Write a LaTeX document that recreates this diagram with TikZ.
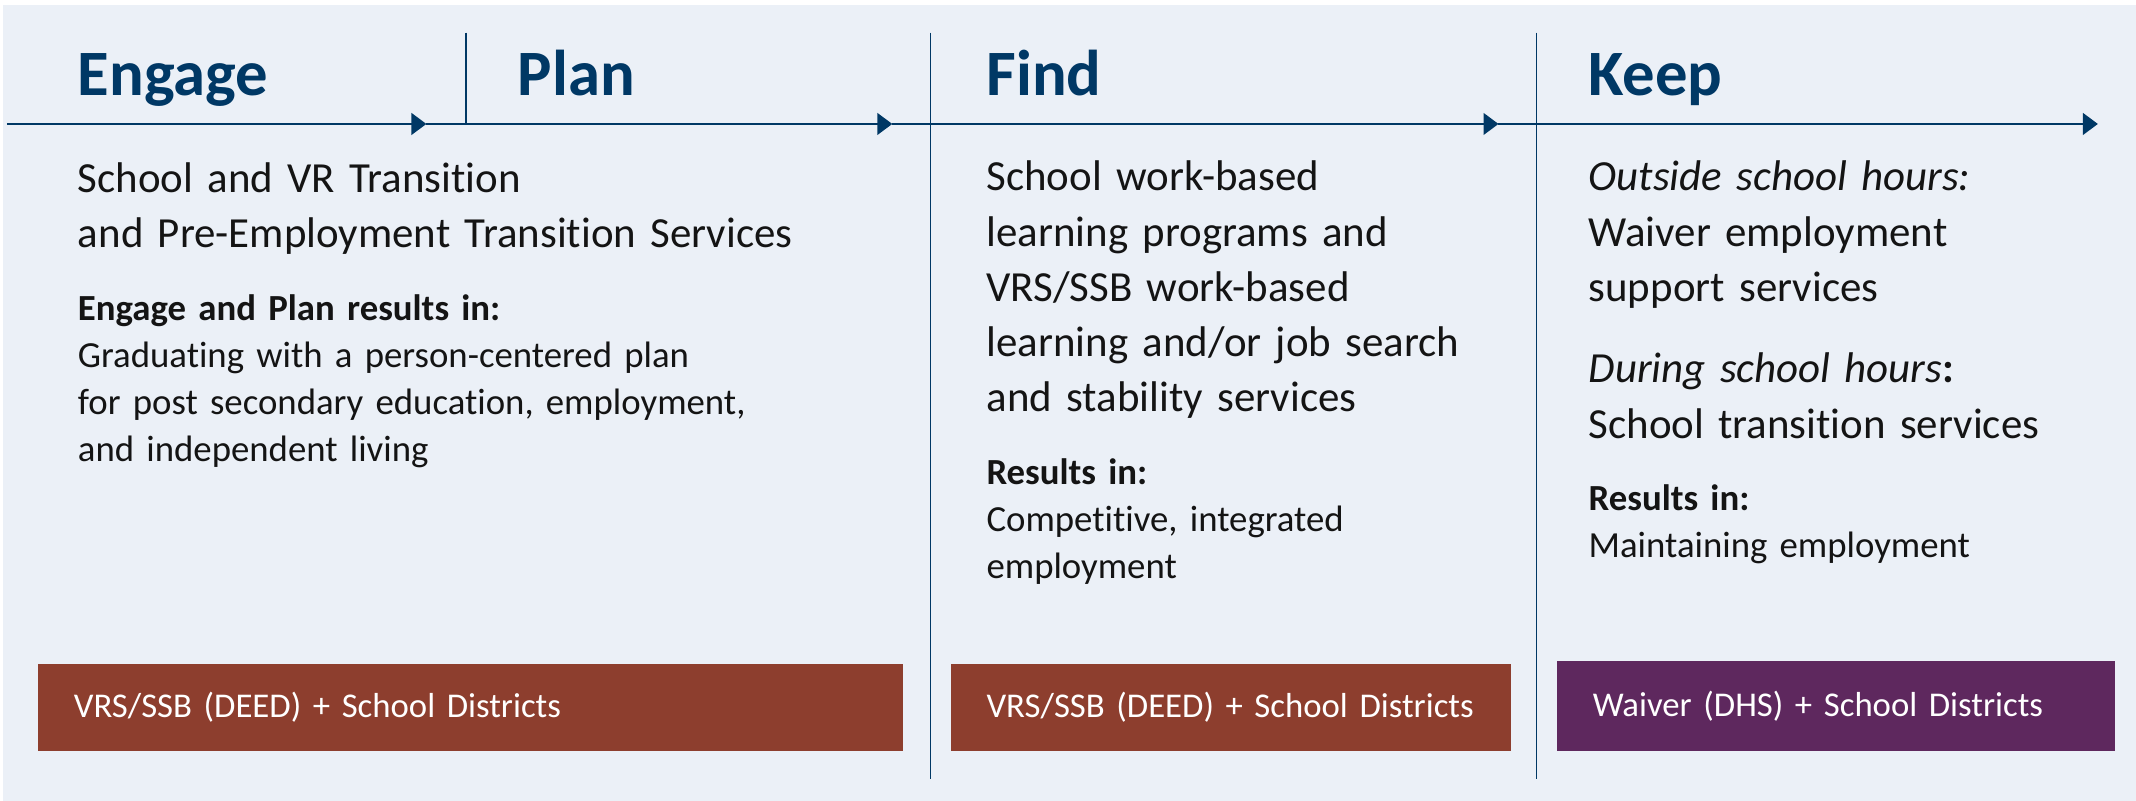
\documentclass[tikz,border=0pt]{standalone}
\usepackage{fontspec}
\setmainfont{Carlito}[Ligatures=NoCommon]
\usetikzlibrary{arrows.meta, positioning}
\definecolor{navy1}{RGB}{0, 56, 101}
\definecolor{panel1}{RGB}{235, 240, 247}
\definecolor{rust1}{RGB}{141, 62, 46}
\definecolor{plum1}{RGB}{94, 40, 94}
\definecolor{ink1}{RGB}{20, 20, 20}

\begin{document}
\begin{tikzpicture}[
  x=1pt, y=1pt,
  stage/.style={anchor=base west, inner sep=0pt, text=navy1, font=\fontsize{47.5}{50}\selectfont\bfseries},
  bigtxt/.style={anchor=base west, inner sep=0pt, align=left, text width=#1, text=ink1, font=\fontsize{31.5}{40.6}\selectfont},
  smalltxt/.style={anchor=base west, inner sep=0pt, align=left, text width=#1, text=ink1, font=\fontsize{27}{34.5}\selectfont},
  band/.style={fill=#1, anchor=north west, inner xsep=26pt, inner ysep=0pt, minimum height=64pt, align=left, text=white, font=\fontsize{25.5}{28}\selectfont},
  flow/.style={draw=navy1, line width=1.4pt, -{Triangle[length=11pt, width=16pt]}},
  divider/.style={draw=navy1, line width=1pt},
]
  % page and panel
  \fill[white] (0,0) rectangle (1568,-588);
  \fill[panel1] (2,-4) rectangle (1568,-588);

  % timeline
  \coordinate (start) at (5,-91);
  \coordinate (tipA) at (313,-91);
  \coordinate (tipB) at (655,-91);
  \coordinate (tipC) at (1100,-91);
  \coordinate (tipD) at (1540,-91);
  \draw[flow] (start) -- (tipA);
  \draw[flow] (tipA) -- (tipB);
  \draw[flow] (tipB) -- (tipC);
  \draw[flow] (tipC) -- (tipD);

  \coordinate (topA) at (342,-24);
  \coordinate (topB) at (683,-24);
  \coordinate (topC) at (1128,-24);
  \coordinate (footB) at (683,-572);
  \coordinate (footC) at (1128,-572);
  \draw[divider] (topA) -- (topA |- start);
  \draw[divider] (topB) -- (footB);
  \draw[divider] (topC) -- (footC);

  % stage titles
  \node[stage] (engage) at (57,-70) {Engage};
  \node[stage] (plan) at (380,-70) {Plan};
  \node[stage] (find) at (724,-70) {Find};
  \node[stage] (keep) at (1166,-70) {Keep};

  % column texts
  \node[bigtxt=580pt] (engageserv) at (57,-141) {School and VR Transition\\and Pre-Employment Transition Services};
  \node[smalltxt=580pt] (engageres) at (57,-235) {\textbf{Engage and Plan results in:}\\Graduating with a person-centered plan\\for post secondary education, employment,\\and independent living};

  \node[bigtxt=390pt] (findserv) at (724,-140) {School work-based\\learning programs and\\VRS/SSB work-based\\learning and/or job search\\and stability services};
  \node[smalltxt=390pt] (findres) at (724,-356) {\textbf{Results in:}\\Competitive, integrated\\employment};

  \node[bigtxt=390pt] (keepout) at (1166,-140) {\textit{Outside school hours:}\\Waiver employment\\support services};
  \node[bigtxt=390pt] (keepin) at (1166,-281) {\textit{During school hours}\textbf{:}\\School transition services};
  \node[smalltxt=390pt] (keepres) at (1166,-375) {\textbf{Results in:}\\Maintaining employment};

  % partner bands
  \node[band=rust1, text width=583pt, inner xsep=26pt] (bandA) at (28,-487) {\mbox{VRS/SSB (DEED) + School Districts}};
  \node[band=rust1, text width=359pt] (bandB) at (698,-487) {\mbox{VRS/SSB (DEED) + School Districts}};
  \node[band=plum1, text width=357pt, minimum height=66pt] (bandC) at (1143,-485) {\mbox{Waiver (DHS) + School Districts}};
\end{tikzpicture}
\end{document}
